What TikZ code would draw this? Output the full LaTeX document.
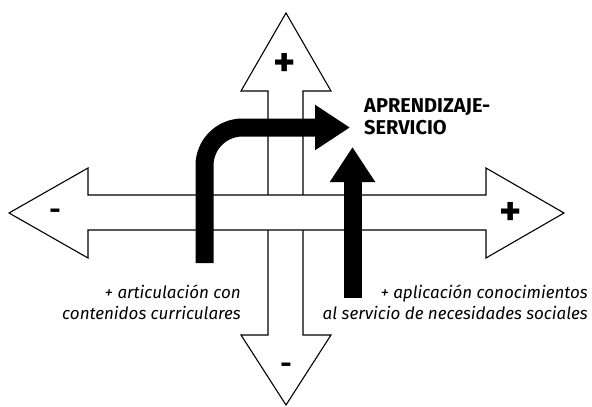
\documentclass[tikz,border=0pt]{standalone}
\usepackage{fontspec}
\setmainfont{Fira Sans}
\usetikzlibrary{arrows.meta,positioning}

\begin{document}
\begin{tikzpicture}[x=1pt,y=-1pt,
    axis/.style={draw,fill=white,line width=1.1pt,line join=miter},
    flow/.style={line width=18pt,-{Triangle[length=35pt,width=43pt]}},
    sign/.style={font=\bfseries\fontsize{42}{42}\selectfont,inner sep=0pt},
    minus/.style={font=\bfseries\fontsize{28}{28}\selectfont,inner sep=0pt},
    note/.style={font=\itshape\fontsize{17}{21}\selectfont,align=right,anchor=east,inner sep=0pt},
    title/.style={font=\bfseries\fontsize{20}{22}\selectfont,align=left,anchor=west,inner sep=0pt}]
   \useasboundingbox (0,0) rectangle (592,407);
   % vertical axis, under the horizontal one
   \draw[axis] (286,13) -- (331,91) -- (303,91) -- (303,335) -- (331,335) -- (286,405)
      -- (241,335) -- (268,335) -- (268,91) -- (241,91) -- cycle;
   \draw[axis] (9,213) -- (88,168) -- (88,195) -- (486,195) -- (486,168) -- (564,213)
      -- (486,258) -- (486,230) -- (88,230) -- (88,258) -- cycle;
   \node[sign]  (up)    at (285,65)  {+};
   \node[minus] (down)  at (286,368) {-};
   \node[minus] (left)  at (55,214)  {-};
   \node[sign]  (right) at (511,214) {+};
   % the two black arrows
   \coordinate (cstart) at (204.5,263);
   \coordinate (cend)   at (350,127.5);
   \coordinate (sstart) at (352.5,298);
   \coordinate (send)   at (352.5,147);
   \draw[flow,rounded corners=38pt] (cstart) |- (cend);
   \draw[flow] (sstart) -- (send);
   \node[title] (as) at (364,117) {APRENDIZAJE-\\SERVICIO};
   \node[note] (curr) at (241,302) {+ articulación con\\contenidos curriculares};
   \node[note] (soc)  at (588,302) {+ aplicación conocimientos\\al servicio de necesidades sociales};
\end{tikzpicture}
\end{document}
